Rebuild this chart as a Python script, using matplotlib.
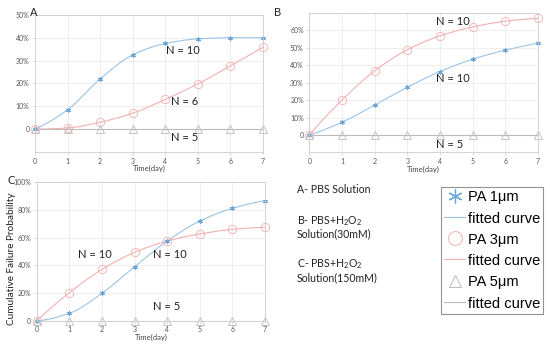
import numpy as np
import matplotlib
matplotlib.use("Agg")
import matplotlib.pyplot as plt
from matplotlib.lines import Line2D

plt.rcParams['font.family'] = ['Lato', 'DejaVu Sans']
plt.rcParams['mathtext.fontset'] = 'custom'
plt.rcParams['mathtext.rm'] = 'Lato'

days = [0, 1, 2, 3, 4, 5, 6, 7]

# Panel A - PBS Solution
a_1um = [0, 8.5, 22, 32.5, 37.5, 39.5, 40, 40]
a_3um = [0, 0.5, 3, 7, 13, 19.8, 27.7, 35.8]
a_5um = [0, 0, 0, 0, 0, 0, 0, 0]

# Panel B - PBS+H2O2 (30mM)
b_1um = [0, 7.3, 17.2, 27.4, 36.4, 43.5, 48.7, 52.7]
b_3um = [0, 20, 36.8, 48.9, 56.9, 62.0, 65.3, 66.9]
b_5um = [0, 0, 0, 0, 0, 0, 0, 0]

# Panel C - PBS+H2O2 (150mM)
c_1um = [0, 5.3, 19.8, 39, 57.6, 72, 81.2, 86.7]
c_3um = [0, 20.2, 37.1, 49.4, 57.6, 62.7, 66, 67.5]
c_5um = [0, 0, 0, 0, 0, 0, 0, 0]

legend_labels = ['PA 1\u03bcm', 'fitted curve', 'PA 3\u03bcm', 'fitted curve', 'PA 5\u03bcm', 'fitted curve']

BLUE = '#9cc4e4'
BLUE_M = '#6aa7d8'
RED = '#f4b0b0'
GRAY = '#bbbbbb'
TICK_C = '#555555'


def pchip(x, y, xs):
    x = np.asarray(x, float); y = np.asarray(y, float)
    h = np.diff(x); d = np.diff(y) / h
    n = len(x); m = np.zeros(n)
    for k in range(1, n - 1):
        if d[k - 1] * d[k] <= 0:
            m[k] = 0
        else:
            w1 = 2 * h[k] + h[k - 1]; w2 = h[k] + 2 * h[k - 1]
            m[k] = (w1 + w2) / (w1 / d[k - 1] + w2 / d[k])
    def endslope(h0, h1, d0, d1):
        s = ((2 * h0 + h1) * d0 - h0 * d1) / (h0 + h1)
        if np.sign(s) != np.sign(d0):
            s = 0
        elif np.sign(d0) != np.sign(d1) and abs(s) > abs(3 * d0):
            s = 3 * d0
        return s
    m[0] = endslope(h[0], h[1], d[0], d[1])
    m[-1] = endslope(h[-1], h[-2], d[-1], d[-2])
    idx = np.clip(np.searchsorted(x, xs) - 1, 0, n - 2)
    t = (xs - x[idx]) / h[idx]
    h00 = 2 * t**3 - 3 * t**2 + 1; h10 = t**3 - 2 * t**2 + t
    h01 = -2 * t**3 + 3 * t**2; h11 = t**3 - t**2
    return h00 * y[idx] + h10 * h[idx] * m[idx] + h01 * y[idx + 1] + h11 * h[idx] * m[idx + 1]


fig = plt.figure(figsize=(5.5, 3.47), dpi=100)

def setup(ax, ylim, yticks):
    ax.set_xlim(0, 7)
    ax.set_ylim(*ylim)
    ax.set_xticks(range(8))
    ax.set_yticks(yticks)
    ax.set_yticklabels(['0' if v == 0 else f'{v}%' for v in yticks])
    ax.grid(True, color='#ebebeb', linewidth=0.6)
    ax.set_axisbelow(True)
    for s in ax.spines.values():
        s.set_color('#cccccc'); s.set_linewidth(0.6)
    ax.tick_params(labelsize=5, colors='#cccccc', labelcolor=TICK_C, length=2, width=0.5, pad=2)
    ax.set_xlabel('Time(day)', fontsize=5.5, color='#444444', labelpad=0.5)

def draw(ax, s1, s3, s5):
    xs = np.linspace(0, 7, 200)
    ax.plot(xs, pchip(days, s1, xs), color=BLUE, lw=0.8)
    ax.plot(xs, pchip(days, s3, xs), color=RED, lw=0.8)
    ax.plot(xs, pchip(days, s5, xs), color=GRAY, lw=0.8)
    ax.plot(days, s1, ls='none', marker=(6, 2, 0), ms=3.5, mew=0.7, color=BLUE_M, clip_on=False)
    ax.plot(days, s3, ls='none', marker='o', ms=6, mfc='none', mew=0.6, color=RED, clip_on=False)
    ax.plot(days, s5, ls='none', marker='^', ms=6, mfc='none', mew=0.6, color=GRAY, clip_on=False)

ann = dict(fontsize=8, ha='center', va='center', color='#222222')

axA = fig.add_axes([0.0636, 0.562, 0.4145, 0.395])
setup(axA, (-10, 50), [0, 10, 20, 30, 40, 50])
draw(axA, a_1um, a_3um, a_5um)
axA.text(4.55, 34.3, 'N = 10', **ann)
axA.text(4.58, 12, 'N = 6', **ann)
axA.text(4.58, -3.8, 'N = 5', **ann)

axB = fig.add_axes([0.5624, 0.5608, 0.4158, 0.4017])
setup(axB, (-10, 70), [0, 10, 20, 30, 40, 50, 60])
draw(axB, b_1um, b_3um, b_5um)
axB.text(4.39, 65, 'N = 10', **ann)
axB.text(4.39, 32.6, 'N = 10', **ann)
axB.text(4.3, -5.3, 'N = 5', **ann)

axC = fig.add_axes([0.0667, 0.0758, 0.4151, 0.3988])
setup(axC, (0, 100), [0, 20, 40, 60, 80, 100])
draw(axC, c_1um, c_3um, c_5um)
axC.text(1.79, 48, 'N = 10', **ann)
axC.text(4.09, 48, 'N = 10', **ann)
axC.text(3.99, 10, 'N = 5', **ann)
fig.text(12 / 550, 1 - 259 / 347, 'Cumulative Failure Probability', rotation=90,
         fontsize=7.2, color='#222222', ha='center', va='center')

fig.text(30 / 550, 1 - 12 / 347, 'A', fontsize=8, ha='left', va='center', color='#222222')
fig.text(274 / 550, 1 - 12 / 347, 'B', fontsize=8, ha='left', va='center', color='#222222')
fig.text(7 / 550, 1 - 180 / 347, 'C', fontsize=8, ha='left', va='center', color='#222222')

tk = dict(fontsize=7.6, ha='left', va='center', color='#222222')
fig.text(297 / 550, 1 - 190 / 347, 'A- PBS Solution', **tk)
fig.text(297 / 550, 1 - 221 / 347, 'B- PBS+H$_\\mathregular{2}$O$_\\mathregular{2}$', **tk)
fig.text(297 / 550, 1 - 234 / 347, 'Solution(30mM)', **tk)
fig.text(297 / 550, 1 - 264 / 347, 'C- PBS+H$_\\mathregular{2}$O$_\\mathregular{2}$', **tk)
fig.text(297 / 550, 1 - 278 / 347, 'Solution(150mM)', **tk)

handles = [
    Line2D([], [], ls='none', marker=(6, 2, 0), ms=10, mew=0.9, color=BLUE_M),
    Line2D([], [], color=BLUE, lw=0.8),
    Line2D([], [], ls='none', marker='o', ms=10, mfc='none', mew=0.7, color=RED),
    Line2D([], [], color=RED, lw=0.8),
    Line2D([], [], ls='none', marker='^', ms=9, mfc='none', mew=0.7, color=GRAY),
    Line2D([], [], color=GRAY, lw=0.8),
]
leg = fig.legend(handles, legend_labels, loc='upper left',
                 bbox_to_anchor=(440.7 / 550, 1 - 187 / 347),
                 prop={'family': ['Liberation Sans', 'DejaVu Sans'], 'size': 10.5},
                 frameon=True, fancybox=False, handlelength=1.5, handletextpad=0.15,
                 labelspacing=0.46, borderpad=0.2, borderaxespad=0, handleheight=1.0)
leg.get_frame().set_edgecolor('#777777')
leg.get_frame().set_linewidth(0.8)

fig.savefig('out.png', dpi=100)
